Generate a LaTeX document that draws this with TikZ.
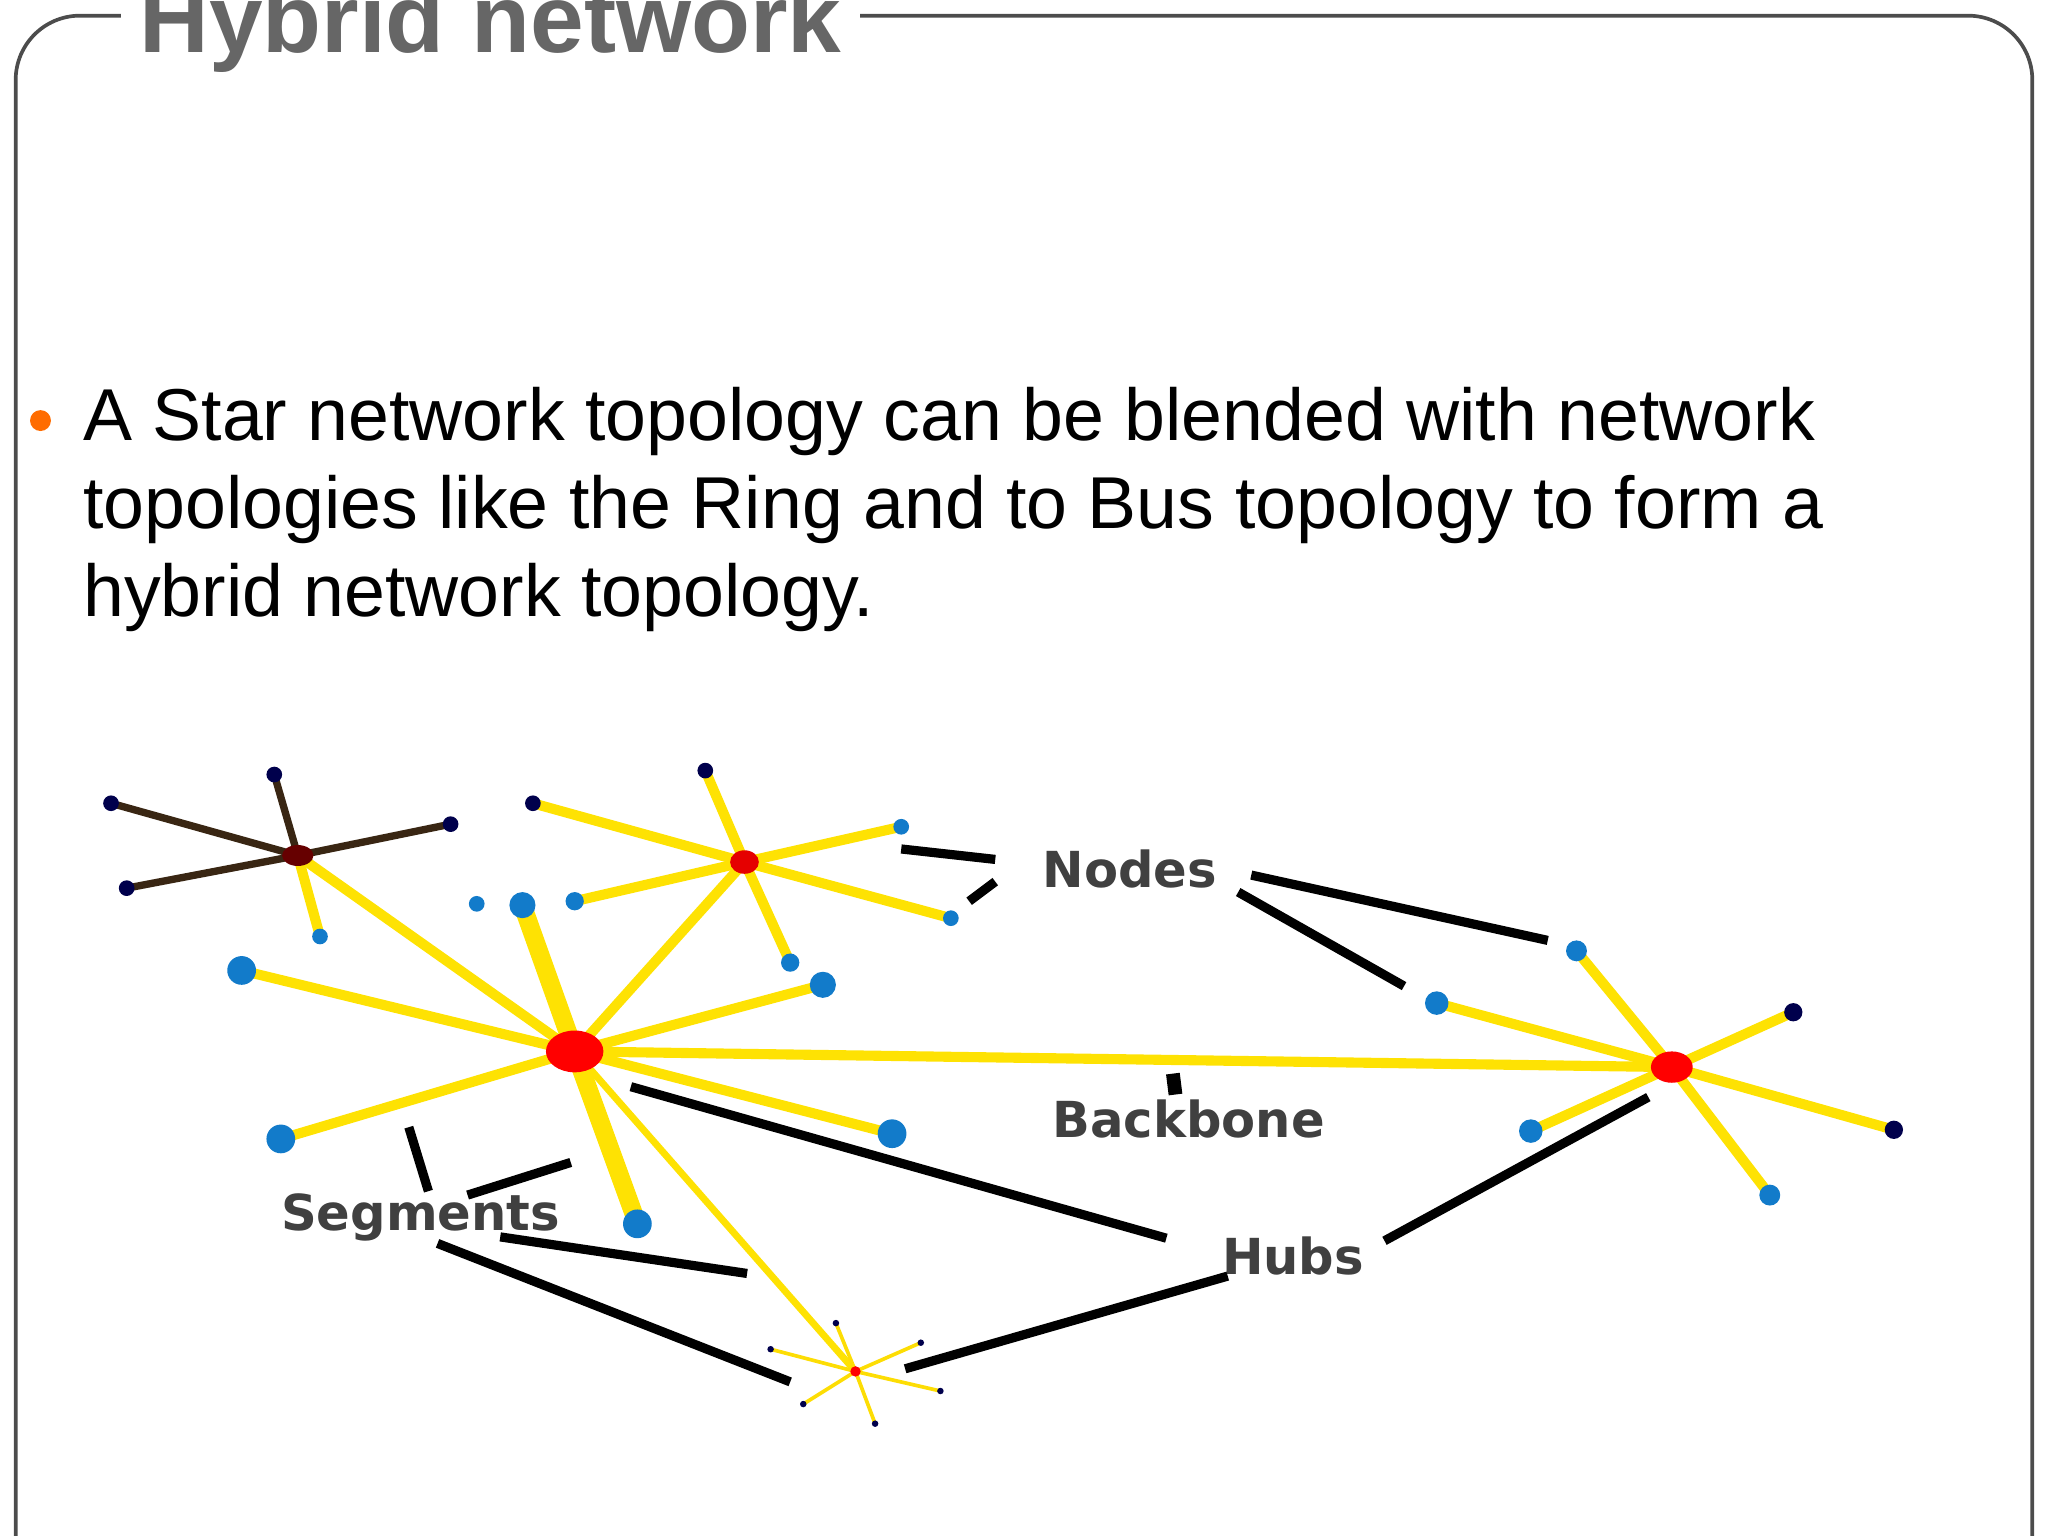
\documentclass[tikz,border=0pt]{standalone}
\usepackage{fontspec}
\setmainfont{Liberation Sans}
\newfontfamily\labfont{DejaVu Sans}
\begin{document}
\begin{tikzpicture}[x=0.01cm,y=-0.01cm,
 yl/.style={draw=yellow!85!orange,line width=2.2pt},
 yt/.style={draw=yellow!85!orange,line width=4pt},
 bl/.style={line width=2pt},
 blue/.style={fill=cyan!60!blue,draw=none},
 dk/.style={fill=black!70!blue,draw=none},
 lab/.style={font=\labfont\fontsize{10.8}{12}\selectfont\bfseries,text=black!75,inner sep=1pt}]
\useasboundingbox (0,0) rectangle (1568,1176);
\clip (0,0) rectangle (1568,1176);
\draw[black!70,line width=0.8pt,rounded corners=14pt] (12,1230) -- (12,12) -- (1556,12) -- (1556,1230);
\node[fill=white,inner sep=4pt,anchor=base west,font=\fontsize{21}{24}\selectfont\bfseries,text=black!60] (title) at (92,40) {Hybrid network};
\fill[orange!85!red] (31,322) circle (8);
\node[anchor=base west,align=left,font=\fontsize{16}{19}\selectfont,inner sep=0] (body) at (63,337) {A Star network topology can be blended with network};
\node[anchor=base west,align=left,font=\fontsize{16}{19}\selectfont,inner sep=0] (body2) at (63,405) {topologies like the Ring and to Bus topology to form a};
\node[anchor=base west,align=left,font=\fontsize{16}{19}\selectfont,inner sep=0] (body3) at (63,472) {hybrid network topology.};
% coordinates
\coordinate (A) at (440,805); \coordinate (B) at (570,660); \coordinate (C) at (228,655);
\coordinate (D) at (1280,817); \coordinate (E) at (655,1050);
% hub C
\foreach \p in {(85,615),(210,593),(345,631),(97,680)} \draw[black!70!brown,line width=1.6pt] (C) -- \p;
\draw[yl] (C) -- (245,717);
\foreach \p in {(85,615),(210,593),(345,631),(97,680)} \fill[dk] \p circle (6);
% hub B
\draw[yl] (B) -- (540,590); \draw[yl] (B) -- (408,615); \draw[yl] (B) -- (690,633);
\draw[yl] (B) -- (728,703); \draw[yl] (B) -- (605,737); \draw[yl] (B) -- (440,690);
% hub A
\draw[yl] (A) -- (C); \draw[yl] (A) -- (B); \draw[yl] (A) -- (D);
\draw[yl,line width=1.5pt] (A) -- (E);
\foreach \p in {(185,743),(215,872),(683,868),(630,754)} \draw[yl] (A) -- \p;
\draw[yt] (A) -- (488,937); \draw[yt] (A) -- (400,693);
% hub D
\foreach \p in {(1207,728),(1100,768),(1355,915),(1172,866)} \draw[yl] (D) -- \p;
\draw[yl] (D) -- (1373,775); \draw[yl] (D) -- (1450,865);
% hub E
\foreach \p in {(590,1033),(640,1013),(705,1028),(720,1065),(670,1090),(615,1075)} {\draw[yellow!80!orange,line width=0.8pt] (E) -- \p; \fill[dk] \p circle (2.5);}
% end nodes
\fill[dk] (540,590) circle (6); \fill[dk] (408,615) circle (6);
\fill[dk] (1373,775) circle (7); \fill[dk] (1450,865) circle (7);
\foreach \p/\r in {(690,633)/6,(728,703)/6,(605,737)/7,(440,690)/7,(365,692)/6,(245,717)/6,
 (185,743)/11,(215,872)/11,(488,937)/11,(683,868)/11,(630,754)/10,(400,693)/10,
 (1207,728)/8,(1100,768)/9,(1355,915)/8,(1172,866)/9}
 \fill[blue] \p circle (\r);
% hubs
\fill[red] (A) ellipse (22 and 16);
\fill[red!90!black] (B) ellipse (11 and 9);
\fill[black!60!red] (C) ellipse (12 and 8);
\fill[red] (D) ellipse (16 and 12);
\fill[red] (E) circle (4);
% labels
\node[lab] (nodes) at (865,665) {Nodes};
\node[lab] (backbone) at (910,857) {Backbone};
\node[lab] (segments) at (322,932) {Segments};
\node[lab] (hubs) at (990,962) {Hubs};
\draw[bl] (690,650) -- (762,658); \draw[bl] (742,690) -- (762,675);
\draw[bl] (958,670) -- (1185,720); \draw[bl] (948,683) -- (1075,755);
\draw[bl,line width=3pt] (898,822) -- (900,838);
\draw[bl] (313,863) -- (328,912); \draw[bl] (358,915) -- (437,890);
\draw[bl] (383,947) -- (572,975); \draw[bl] (335,952) -- (605,1058);
\draw[bl] (483,832) -- (893,948); \draw[bl] (1060,950) -- (1262,840);
\draw[bl] (940,977) -- (693,1048);
\end{tikzpicture}
\end{document}
